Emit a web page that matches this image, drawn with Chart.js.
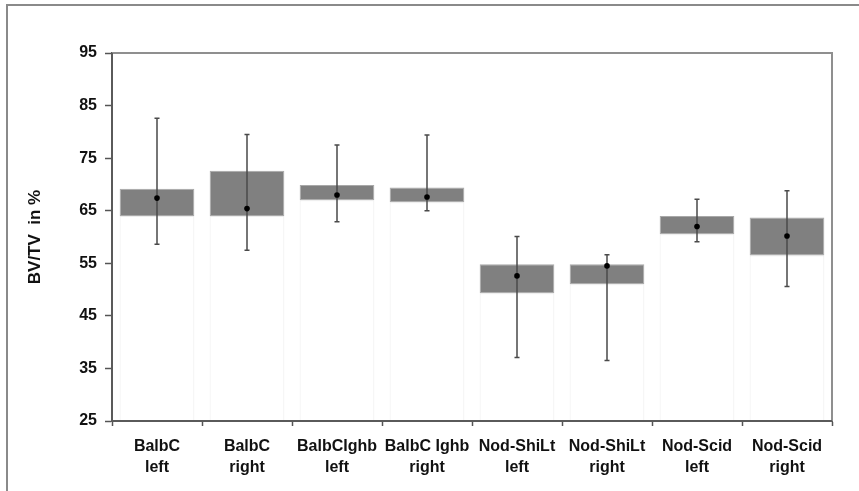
<!DOCTYPE html>
<html>
<head>
<meta charset="utf-8">
<script src="https://cdn.jsdelivr.net/npm/chart.js@4.4.1/dist/chart.umd.min.js"></script>
<style>
  html, body { margin: 0; padding: 0; background: #ffffff; }
  #wrap { position: relative; width: 859px; height: 491px; }
</style>
</head>
<body>
<div id="wrap"><canvas id="c" width="859" height="491"></canvas></div>
<script>
const categories = [
  ["BalbC", "left"], ["BalbC", "right"], ["BalbCIghb", "left"], ["BalbC Ighb", "right"],
  ["Nod-ShiLt", "left"], ["Nod-ShiLt", "right"], ["Nod-Scid", "left"], ["Nod-Scid", "right"]
];
const boxLow   = [64.0, 64.0, 67.0, 66.6, 49.3, 51.0, 60.5, 56.5];
const boxHigh  = [69.2, 72.6, 69.9, 69.4, 54.8, 54.8, 64.0, 63.7];
const centers  = [67.4, 65.4, 68.0, 67.6, 52.6, 54.5, 62.0, 60.2];
const whiskMax = [82.6, 79.5, 77.5, 79.4, 60.1, 56.6, 67.2, 68.8];
const whiskMin = [58.6, 57.5, 62.9, 65.0, 37.1, 36.5, 59.1, 50.6];
const yTicks   = [25, 35, 45, 55, 65, 75, 85, 95];
const yMin = 25, yMax = 95;

const FONT = "'Liberation Sans', Arial, Helvetica, sans-serif";

const framePlugin = {
  id: 'frame',
  beforeDraw(chart) {
    const ctx = chart.ctx;
    ctx.save();
    ctx.strokeStyle = '#8a8a8a';
    ctx.lineWidth = 2;
    ctx.beginPath();
    ctx.moveTo(7, 491);
    ctx.lineTo(7, 5);
    ctx.lineTo(859, 5);
    ctx.stroke();
    ctx.restore();
  },
  afterDraw(chart) {
    const {ctx, chartArea: a} = chart;
    ctx.save();
    ctx.lineWidth = 2;
    ctx.strokeStyle = '#8f8f8f';
    ctx.beginPath();
    ctx.moveTo(a.left, a.top);
    ctx.lineTo(a.right, a.top);
    ctx.lineTo(a.right, a.bottom);
    ctx.stroke();
    ctx.strokeStyle = '#5a5a5a';
    ctx.beginPath();
    ctx.moveTo(a.left, a.top);
    ctx.lineTo(a.left, a.bottom);
    ctx.lineTo(a.right, a.bottom);
    ctx.stroke();
    ctx.restore();
  }
};

const whiskerPlugin = {
  id: 'whiskers',
  afterDatasetDraw(chart, args) {
    if (args.meta.index !== 1) return;
    const ctx = chart.ctx;
    const xs = chart.scales.x, ys = chart.scales.y;
    ctx.save();
    ctx.strokeStyle = '#4a4a4a';
    ctx.lineWidth = 1.5;
    for (let i = 0; i < categories.length; i++) {
      const x = xs.getPixelForValue(i);
      const yTop = ys.getPixelForValue(whiskMax[i]);
      const yBot = ys.getPixelForValue(whiskMin[i]);
      ctx.beginPath();
      ctx.moveTo(x, yTop); ctx.lineTo(x, yBot);
      ctx.moveTo(x - 2.5, yTop); ctx.lineTo(x + 2.5, yTop);
      ctx.moveTo(x - 2.5, yBot); ctx.lineTo(x + 2.5, yBot);
      ctx.stroke();
    }
    ctx.restore();
  }
};

new Chart(document.getElementById('c'), {
  data: {
    labels: categories,
    datasets: [
      {
        type: 'bar',
        data: boxLow.map(v => [yMin, v]),
        backgroundColor: '#ffffff',
        borderColor: '#ececec',
        borderWidth: 1,
        borderSkipped: false,
        grouped: false,
        barPercentage: 0.83,
        categoryPercentage: 1.0,
        order: 3
      },
      {
        type: 'bar',
        data: boxLow.map((v, i) => [v, boxHigh[i]]),
        backgroundColor: '#808080',
        borderColor: '#a8a8a8',
        borderWidth: 1,
        borderSkipped: false,
        grouped: false,
        barPercentage: 0.83,
        categoryPercentage: 1.0,
        order: 2
      },
      {
        type: 'line',
        data: centers,
        showLine: false,
        pointRadius: 2.8,
        pointBackgroundColor: '#000000',
        pointBorderColor: '#000000',
        pointBorderWidth: 0,
        order: 0
      }
    ]
  },
  options: {
    responsive: false,
    animation: false,
    events: [],
    layout: { padding: { left: 0, top: 53, right: 27, bottom: 0 } },
    plugins: { legend: { display: false }, tooltip: { enabled: false } },
    scales: {
      x: {
        type: 'category',
        offset: true,
        grid: {
          offset: true,
          drawOnChartArea: false,
          drawTicks: true,
          tickLength: 5,
          tickColor: '#555555',
          tickWidth: 1.5
        },
        border: { display: true, color: '#5a5a5a', width: 2 },
        ticks: {
          color: '#111111',
          padding: 10,
          maxRotation: 0,
          autoSkip: false,
          font: { family: FONT, size: 16, weight: 'bold', lineHeight: 1.3 }
        },
        afterFit(s) { s.height = 70; }
      },
      y: {
        type: 'linear',
        min: yMin,
        max: yMax,
        afterBuildTicks(s) { s.ticks = yTicks.map(v => ({ value: v })); },
        grid: {
          drawOnChartArea: false,
          drawTicks: true,
          tickLength: 7,
          tickColor: '#555555',
          tickWidth: 1.5
        },
        border: { display: true, color: '#5a5a5a', width: 2 },
        ticks: {
          color: '#111111',
          padding: 8,
          font: { family: FONT, size: 16, weight: 'bold' }
        },
        title: {
          display: true,
          text: 'BV/TV  in %',
          color: '#111111',
          padding: { top: 25, bottom: 0 },
          font: { family: FONT, size: 17, weight: 'bold' }
        },
        afterFit(s) { s.width = 112; }
      }
    }
  },
  plugins: [framePlugin, whiskerPlugin]
});
</script>
</body>
</html>
